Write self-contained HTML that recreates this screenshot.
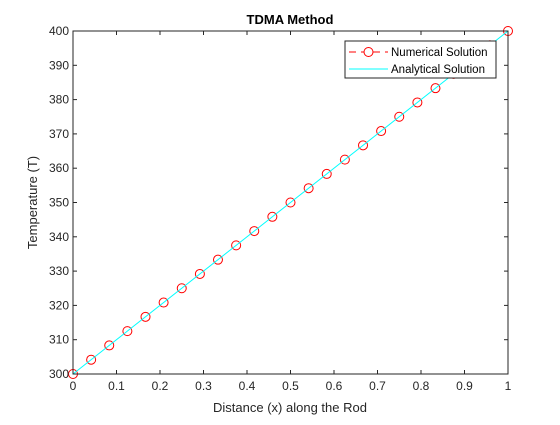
<!DOCTYPE html>
<html><head><meta charset="utf-8"><style>
body{margin:0;background:#fff;}
svg text{font-family:"Liberation Sans",Arial,sans-serif;}
</style></head><body>
<svg id="c" width="560" height="420" xmlns="http://www.w3.org/2000/svg">
<rect width="560" height="420" fill="#fff"/>
</svg>
<script>
const xValues=[0,0.0417,0.0833,0.125,0.1667,0.2083,0.25,0.2917,0.3333,0.375,0.4167,0.4583,0.5,0.5417,0.5833,0.625,0.6667,0.7083,0.75,0.7917,0.8333,0.875,0.9167,0.9583,1];
const numerical=[300,304.17,308.33,312.5,316.67,320.83,325,329.17,333.33,337.5,341.67,345.83,350,354.17,358.33,362.5,366.67,370.83,375,379.17,383.33,387.5,391.67,395.83,400];
const analyticalX=[0,1];
const analyticalY=[300,400];
const xTicks=[0,0.1,0.2,0.3,0.4,0.5,0.6,0.7,0.8,0.9,1];
const yTicks=[300,310,320,330,340,350,360,370,380,390,400];
const L=73,R=508,T=31,B=374;
const sx=v=>L+(v-0)/(1-0)*(R-L);
const sy=v=>B-(v-300)/(400-300)*(B-T);
const svg=document.getElementById('c');
const NS='http://www.w3.org/2000/svg';
function mk(tag,attrs,parent){const e=document.createElementNS(NS,tag);for(const k in attrs)e.setAttribute(k,attrs[k]);(parent||svg).appendChild(e);return e;}
const ax=mk('rect',{x:L,y:T,width:R-L,height:B-T,fill:'#fff',stroke:'none'});


const nl=mk('polyline',{points:xValues.map((v,i)=>sx(v)+','+sy(numerical[i])).join(' '),fill:'none',stroke:'#ff0000','stroke-width':0.5,'stroke-dasharray':'6,4'});


xValues.forEach((v,i)=>{const c=mk('circle',{cx:sx(v),cy:sy(numerical[i]),r:4.5,fill:'none',stroke:'#ff0000','stroke-width':1});

});
const al=mk('polyline',{points:analyticalX.map((v,i)=>sx(v)+','+sy(analyticalY[i])).join(' '),fill:'none',stroke:'#00ffff','stroke-width':1});


const box=mk('rect',{x:L,y:T,width:R-L,height:B-T,fill:'none',stroke:'#262626','stroke-width':1});


xTicks.forEach(v=>{const x=sx(v);
mk('line',{x1:x,y1:B,x2:x,y2:B-4,stroke:'#262626'});mk('line',{x1:x,y1:T,x2:x,y2:T+4,stroke:'#262626'});
const t=mk('text',{x:x,y:B+16,'text-anchor':'middle','font-size':12,fill:'#262626'});t.textContent=String(v);

});
yTicks.forEach(v=>{const y=sy(v);
mk('line',{x1:L,y1:y,x2:L+4,y2:y,stroke:'#262626'});mk('line',{x1:R,y1:y,x2:R-4,y2:y,stroke:'#262626'});
const t=mk('text',{x:L-4,y:y+4,'text-anchor':'end','font-size':12,fill:'#262626'});t.textContent=String(v);

});
</script>
<svg style="position:absolute;left:0;top:0" width="560" height="420">
<text x="290" y="24" text-anchor="middle" font-size="13" font-weight="bold" fill="#000">TDMA Method</text>
<text x="290" y="412" text-anchor="middle" font-size="13" fill="#262626">Distance (x) along the Rod</text>
<text transform="translate(37,202.5) rotate(-90)" text-anchor="middle" font-size="13" fill="#262626">Temperature (T)</text>
<g>
<rect x="345" y="41" width="151" height="37" fill="#fff" stroke="#262626" stroke-width="1"/>
<line x1="349" y1="52" x2="388" y2="52" stroke="#f00" stroke-width="1" stroke-dasharray="7,5"/>
<circle cx="368.5" cy="52" r="4.5" fill="#fff" stroke="#f00"/>
<text x="391" y="56" font-size="11.5" fill="#000">Numerical Solution</text>
<line x1="349" y1="69" x2="388" y2="69" stroke="#0ff"/>
<text x="391" y="73" font-size="11.5" fill="#000">Analytical Solution</text>
</g>
</svg>
</body></html>
